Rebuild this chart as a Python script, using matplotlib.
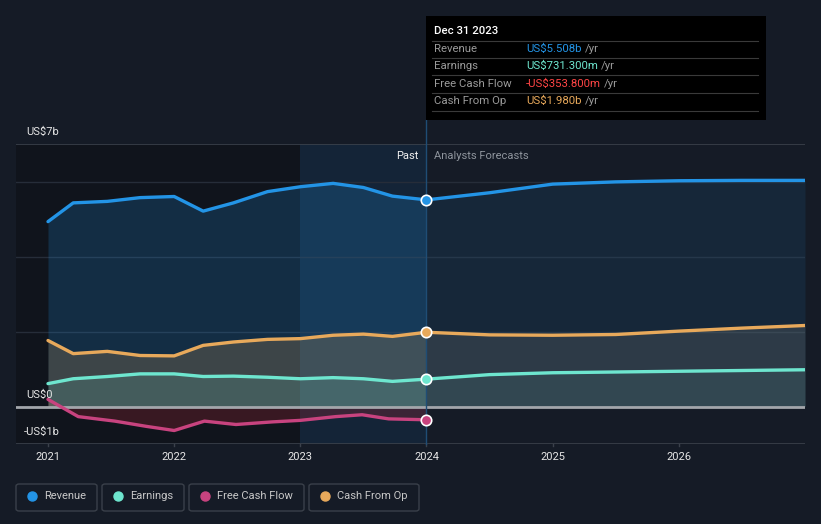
import matplotlib
matplotlib.use("Agg")
import matplotlib.pyplot as plt
from matplotlib.patches import FancyBboxPatch, Rectangle
import numpy as np

plt.rcParams['font.family'] = ['Roboto', 'DejaVu Sans']

# ---- data (US$ billions) ----
past_x = [2021.0, 2021.2, 2021.47, 2021.73, 2022.0, 2022.23, 2022.47, 2022.74,
          2023.0, 2023.26, 2023.5, 2023.73, 2024.0]
revenue_past = [4.93, 5.43, 5.47, 5.57, 5.60, 5.21, 5.43, 5.73, 5.86, 5.95, 5.84, 5.61, 5.51]
earnings_past = [0.61, 0.74, 0.80, 0.87, 0.87, 0.80, 0.81, 0.78, 0.74, 0.77, 0.74, 0.67, 0.73]
cfo_past = [1.76, 1.41, 1.47, 1.36, 1.35, 1.63, 1.72, 1.79, 1.81, 1.90, 1.93, 1.87, 1.98]
fcf_x = [2021.0, 2021.24, 2021.53, 2021.78, 2022.0, 2022.24, 2022.49, 2022.78,
         2023.0, 2023.28, 2023.49, 2023.7, 2024.0]
fcf_past = [0.19, -0.27, -0.39, -0.53, -0.64, -0.39, -0.48, -0.41, -0.37, -0.27, -0.22, -0.33, -0.354]

fc_x = [2024.0, 2024.5, 2025.0, 2025.5, 2026.0, 2026.5, 2027.0]
revenue_fc = [5.51, 5.70, 5.93, 5.99, 6.02, 6.03, 6.03]
earnings_fc = [0.73, 0.85, 0.90, 0.92, 0.94, 0.96, 0.98]
cfo_fc = [1.98, 1.91, 1.90, 1.92, 2.01, 2.09, 2.16]

years = [2021, 2022, 2023, 2024, 2025, 2026]
year_labels = ["2021", "2022", "2023", "2024", "2025", "2026"]

tip_title = "Dec 31 2023"
tip_labels = ["Revenue", "Earnings", "Free Cash Flow", "Cash From Op"]
tip_values = ["US$5.508b", "US$731.300m", "-US$353.800m", "US$1.980b"]

C_REV = "#2394e6"
C_EARN = "#6ee6cf"
C_FCF = "#c8437f"
C_CFO = "#e8a95b"
BG = "#151b26"

W, H = 821, 524
fig = plt.figure(figsize=(W / 100, H / 100), dpi=100)
fig.patch.set_facecolor(BG)

def fx(px):
    return px / W

def fy(py):
    return 1 - py / H

ax_l, ax_r, ax_t, ax_b = 16, 805, 144, 444
ax = fig.add_axes([fx(ax_l), fy(ax_b), (ax_r - ax_l) / W, (ax_b - ax_t) / H])
ax.set_facecolor(BG)
x0 = 2021 - (48 - 16) / 126.2
x1 = 2027.0
ax.set_xlim(x0, x1)
ax.set_ylim(-1, 7)
for s in ax.spines.values():
    s.set_visible(False)
ax.set_xticks([])
ax.set_yticks([])

# past overlays
ax.axvspan(x0, 2023, color="#0e1219", alpha=0.7, zorder=0, lw=0)
ax.axvspan(2023, 2024, color="#143a5e", alpha=0.32, zorder=0, lw=0)

# gridlines
for g in [2, 4, 6]:
    ax.axhline(g, color="#262d39", lw=1, zorder=1)
for g in [7, -1]:
    ax.axhline(g, color="#3b414b", lw=1.2, zorder=1)

# fills
ax.fill_between(past_x, 0, revenue_past, color=C_REV, alpha=0.2, lw=0, zorder=2)
ax.fill_between(fc_x, 0, revenue_fc, color=C_REV, alpha=0.1, lw=0, zorder=2)
ax.fill_between(past_x, 0, cfo_past, color=C_CFO, alpha=0.2, lw=0, zorder=3)
ax.fill_between(fc_x, 0, cfo_fc, color="#8a8a80", alpha=0.2, lw=0, zorder=3)
ax.fill_between(past_x, 0, earnings_past, color=C_EARN, alpha=0.15, lw=0, zorder=4)
ax.fill_between(fc_x, 0, earnings_fc, color=C_EARN, alpha=0.08, lw=0, zorder=4)
ax.fill_between(fcf_x, 0, fcf_past, color="#b02535", alpha=0.25, lw=0, zorder=2)

# zero line
ax.axhline(0, color="#a3a6ab", lw=2, zorder=5)

# lines
lw = 2.4
ax.plot(past_x, revenue_past, color=C_REV, lw=lw, zorder=6, solid_capstyle="round", solid_joinstyle="round")
ax.plot(fc_x, revenue_fc, color=C_REV, lw=lw, zorder=6, solid_capstyle="round", solid_joinstyle="round")
ax.plot(past_x, cfo_past, color=C_CFO, lw=lw, zorder=6, solid_capstyle="round", solid_joinstyle="round")
ax.plot(fc_x, cfo_fc, color=C_CFO, lw=lw, zorder=6, solid_capstyle="round", solid_joinstyle="round")
ax.plot(past_x, earnings_past, color=C_EARN, lw=lw, zorder=6, solid_capstyle="round", solid_joinstyle="round")
ax.plot(fc_x, earnings_fc, color=C_EARN, lw=lw, zorder=6, solid_capstyle="round", solid_joinstyle="round")
ax.plot(fcf_x, fcf_past, color=C_FCF, lw=lw, zorder=6, solid_capstyle="round", solid_joinstyle="round")

# vertical marker line
ax.plot([2024, 2024], [-1, 7.65], color="#1f4d75", lw=1, zorder=5, clip_on=False)

# markers
for val, col in [(revenue_past[-1], C_REV), (cfo_past[-1], C_CFO),
                 (earnings_past[-1], C_EARN), (fcf_past[-1], C_FCF)]:
    ax.plot([2024], [val], marker="o", ms=7.5, mfc=col, mec="white", mew=1.2, zorder=8)

# x ticks
for yv, lab in zip(years, year_labels):
    ax.plot([yv, yv], [-1, -1.06], color="#3b414b", lw=1, clip_on=False, zorder=1)
    ax.text(yv, -1.2, lab, color="#e6e6e6", fontsize=8, ha="center", va="top")

# y labels
fig.text(fx(26), fy(132), "US$7b", color="#e6e6e6", fontsize=8, ha="left", va="center")
fig.text(fx(26), fy(395), "US$0", color="#e6e6e6", fontsize=8, ha="left", va="center")
fig.text(fx(24), fy(432), "-US$1b", color="#e6e6e6", fontsize=8, ha="left", va="center")

# past / forecast
fig.text(fx(418), fy(156), "Past", color="#f0f0f0", fontsize=8, ha="right", va="center")
fig.text(fx(434), fy(156), "Analysts Forecasts", color="#8e949c", fontsize=8, ha="left", va="center")

# tooltip
tip = Rectangle((fx(426), fy(120)), fx(766) - fx(426), fy(16) - fy(120),
                transform=fig.transFigure, facecolor="#000000", edgecolor="none", zorder=10)
fig.patches.append(tip)
fig.text(fx(434), fy(31), tip_title, color="#ffffff", fontsize=8.2, fontweight="medium",
         ha="left", va="center", zorder=11)
tip_cols = [C_REV, C_EARN, "#ff4545", C_CFO]
row_y = [49, 66, 84, 101]
for sep in [41, 58, 75, 93, 111]:
    fig.lines.append(plt.Line2D([fx(432), fx(758)], [fy(sep), fy(sep)], transform=fig.transFigure,
                                color="#3a3a3a", lw=0.8, zorder=11))
renderer = fig.canvas.get_renderer()
for lab, val, col, ry in zip(tip_labels, tip_values, tip_cols, row_y):
    fig.text(fx(434), fy(ry), lab, color="#9a9a9a", fontsize=8.2, ha="left", va="center", zorder=11)
    t = fig.text(fx(526), fy(ry), val, color=col, fontsize=8.2, ha="left", va="center", zorder=11)
    bb = t.get_window_extent(renderer=renderer)
    fig.text(fx(526 + bb.width + 3), fy(ry), "/yr", color="#9a9a9a", fontsize=8.2,
             ha="left", va="center", zorder=11)

# legend boxes
legend_items = ["Revenue", "Earnings", "Free Cash Flow", "Cash From Op"]
legend_cols = [C_REV, C_EARN, C_FCF, C_CFO]
box_x = [(16, 97), (102, 184), (189, 304), (309, 419)]
for lab, col, (bx0, bx1) in zip(legend_items, legend_cols, box_x):
    r = FancyBboxPatch((fx(bx0), fy(511)), fx(bx1) - fx(bx0), fy(484) - fy(511),
                       boxstyle="round,pad=0,rounding_size=0.004", transform=fig.transFigure,
                       facecolor="none", edgecolor="#3a404a", lw=1)
    fig.patches.append(r)
    fig.lines.append(plt.Line2D([fx(bx0 + 16)], [fy(496)], marker="o", ms=6.5, color=col,
                                transform=fig.transFigure, lw=0))
    fig.text(fx(bx0 + 28), fy(496), lab, color="#c8c8c8", fontsize=8, ha="left", va="center")

fig.savefig("out.png", dpi=100, facecolor=BG)
